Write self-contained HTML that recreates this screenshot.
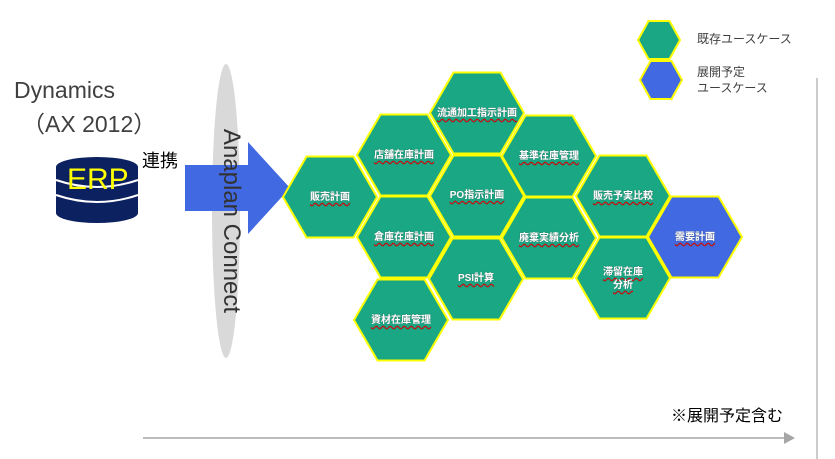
<!DOCTYPE html>
<html><head><meta charset="utf-8"><style>
body{margin:0;width:835px;height:459px;background:#fff;overflow:hidden;position:relative;font-family:"Liberation Sans","Noto Sans CJK JP",sans-serif;}
.t{position:absolute;color:#fff;font-weight:bold;font-size:10px;text-align:center;width:96px;line-height:13px;text-decoration:underline wavy #d00;text-decoration-thickness:1px;text-underline-offset:2px;text-shadow:0 0 1px #555;}
.a{position:absolute;white-space:nowrap;}
</style></head><body>
<svg width="835" height="459" style="position:absolute;left:0;top:0">
<defs><polygon id="h" points="-47,0 -23.5,-40.5 23.5,-40.5 47,0 23.5,40.5 -23.5,40.5"/>
<polygon id="s" points="-21,0 -10.5,-19 10.5,-19 21,0 10.5,19 -10.5,19"/></defs>
<ellipse cx="226" cy="211" rx="14" ry="147" fill="#d9d9d9"/>
<polygon points="185,165 248,165 248,142 290,188 248,234 248,211 185,211" fill="#4169e1"/>
<g stroke="#ffff00" stroke-width="2" fill="#19a784">
<use href="#h" x="330" y="197"/><use href="#h" x="404" y="155"/><use href="#h" x="404" y="237"/>
<use href="#h" x="401" y="320"/><use href="#h" x="477" y="113"/><use href="#h" x="477" y="196"/>
<use href="#h" x="476" y="279"/><use href="#h" x="549" y="156"/><use href="#h" x="549" y="238"/>
<use href="#h" x="623" y="196"/><use href="#h" x="623" y="278"/>
<use href="#h" x="695" y="237" fill="#4169e1"/>
<use href="#s" x="659" y="40"/><use href="#s" x="661" y="80" fill="#4169e1"/>
</g>
<g fill="#0c2160"><rect x="56" y="167" width="82" height="46"/><ellipse cx="97" cy="167" rx="41" ry="10"/><ellipse cx="97" cy="213" rx="41" ry="10"/></g>
<path d="M56 180 Q97 194 138 180 M56 195 Q97 209 138 195" stroke="#fff" stroke-width="2" fill="none"/>
<line x1="817" y1="78" x2="817" y2="459" stroke="#999" stroke-width="1"/>
<line x1="143" y1="438" x2="785" y2="438" stroke="#a6a6a6" stroke-width="1.5"/>
<polygon points="784,432 795,438 784,444" fill="#a6a6a6"/>
</svg>
<div class="a" style="left:14px;top:77px;font-size:23px;color:#404040">Dynamics</div>
<div class="a" style="left:22px;top:105px;font-size:23px;color:#404040">（AX 2012）</div>
<div class="a" style="left:67px;top:163px;font-size:30px;color:#ffff00">ERP</div>
<div class="a" style="left:142px;top:147px;font-size:18px;color:#000">連携</div>
<div class="a" style="left:231px;top:221px;font-size:24px;color:#333;transform:translate(-50%,-50%) rotate(90deg)">Anaplan Connect</div>
<div class="a" style="left:697px;top:30px;font-size:12px;color:#404040">既存ユースケース</div>
<div class="a" style="left:697px;top:64px;font-size:12px;color:#404040;line-height:16px">展開予定<br>ユースケース</div>
<div class="a" style="left:671px;top:402px;font-size:16px;color:#000">※展開予定含む</div>
<div class="t" style="left:282px;top:191px">販売計画</div>
<div class="t" style="left:356px;top:149px">店舗在庫計画</div>
<div class="t" style="left:356px;top:231px">倉庫在庫計画</div>
<div class="t" style="left:353px;top:314px">資材在庫管理</div>
<div class="t" style="left:429px;top:107px">流通加工指示計画</div>
<div class="t" style="left:429px;top:189px">PO指示計画</div>
<div class="t" style="left:428px;top:272px">PSI計算</div>
<div class="t" style="left:501px;top:150px">基準在庫管理</div>
<div class="t" style="left:501px;top:232px">廃棄実績分析</div>
<div class="t" style="left:575px;top:190px">販売予実比較</div>
<div class="t" style="left:575px;top:266px">滞留在庫<br>分析</div>
<div class="t" style="left:647px;top:231px">需要計画</div>
</body></html>
